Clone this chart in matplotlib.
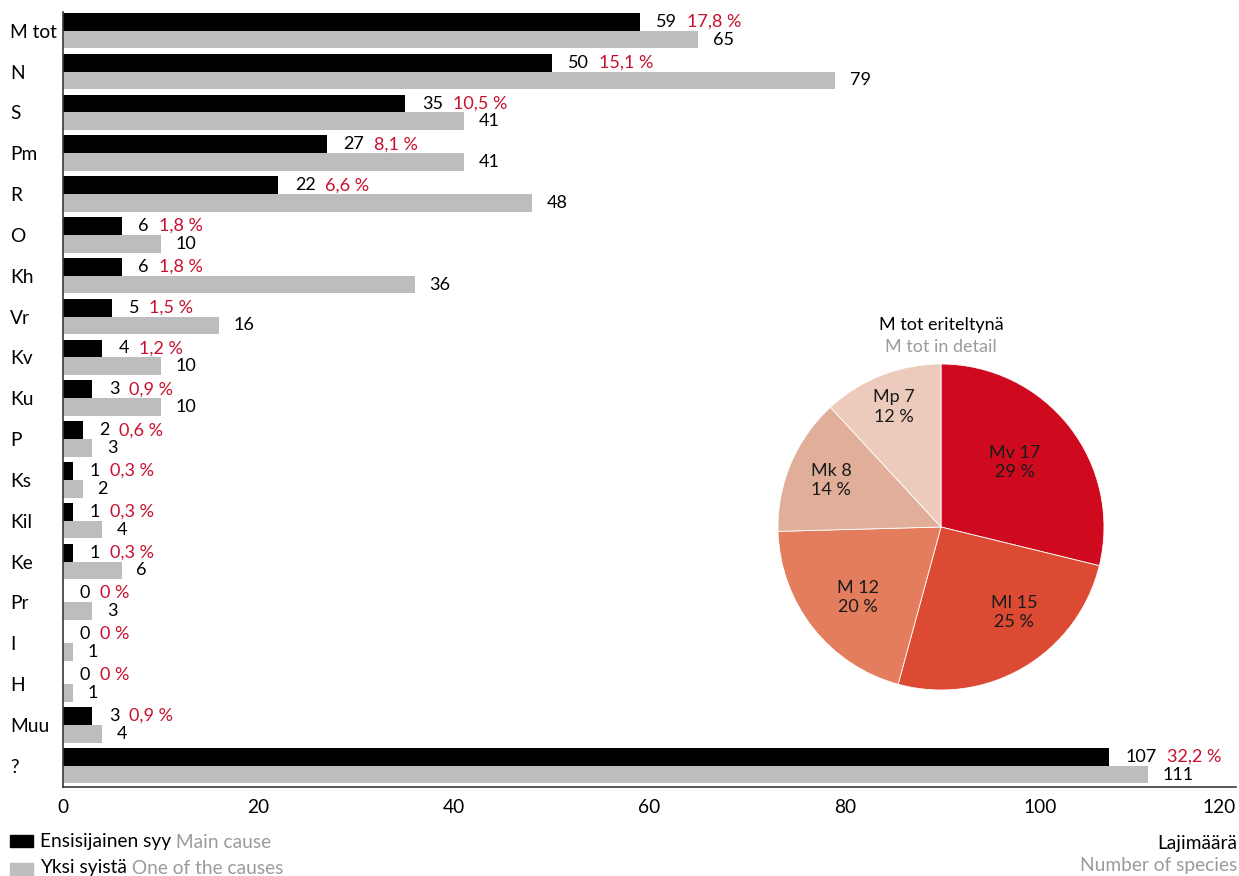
import matplotlib
matplotlib.use("Agg")
import matplotlib.pyplot as plt
from matplotlib.patches import Rectangle
import numpy as np

plt.rcParams["font.family"] = ["Lato", "DejaVu Sans"]

# --- data -------------------------------------------------------------
categories = ["M tot", "N", "S", "Pm", "R", "O", "Kh", "Vr", "Kv", "Ku",
              "P", "Ks", "Kil", "Ke", "Pr", "I", "H", "Muu", "?"]
main_cause = [59, 50, 35, 27, 22, 6, 6, 5, 4, 3, 2, 1, 1, 1, 0, 0, 0, 3, 107]
one_of_causes = [65, 79, 41, 41, 48, 10, 36, 16, 10, 10, 3, 2, 4, 6, 3, 1, 1, 4, 111]

detail_labels = ["Mv", "Ml", "M", "Mk", "Mp"]
detail_values = [17, 15, 12, 8, 7]

x_ticks = [0, 20, 40, 60, 80, 100, 120]

# --- style ------------------------------------------------------------
BLACK = "#000000"
GREY_BAR = "#bdbdbd"
GREY_TXT = "#9b9b9b"
RED_TXT = "#c8102e"
SPINE = "#3a3a3a"
detail_colors = ["#cf0a1f", "#dc4a33", "#e47c5e", "#e0ae99", "#eccbbd"]
FS = 13
FS_BIG = 13.8

W, H = 1239, 876
fig = plt.figure(figsize=(W / 100, H / 100), dpi=100)

# --- bar chart --------------------------------------------------------
left_px, right_px, top_px, bottom_px = 63, 1236, 12, 786.5
ax = fig.add_axes([left_px / W, 1 - bottom_px / H,
                   (right_px - left_px) / W, (bottom_px - top_px) / H])

h = 0.434
y = np.arange(len(categories))
ax.barh(y - h / 2, main_cause, height=h, color=BLACK, linewidth=0)
ax.barh(y + h / 2, one_of_causes, height=h, color=GREY_BAR, linewidth=0)

ax.set_xlim(0, 120)
ax.set_ylim(18.51, -0.458)

total_main = sum(main_cause)
for i, (m, o) in enumerate(zip(main_cause, one_of_causes)):
    t = ax.annotate(str(m), xy=(m, i - h / 2), xytext=(12, 0),
                    textcoords="offset points", ha="left", va="center",
                    fontsize=FS, color=BLACK)
    if m == 0:
        pct = "0 %"
    else:
        pct = f"{m / total_main * 100:.1f}".replace(".", ",") + " %"
    ax.annotate(pct, xy=(1, 0.5), xycoords=t, xytext=(7, 0),
                textcoords="offset points", ha="left", va="center",
                fontsize=FS, color=RED_TXT)
    ax.annotate(str(o), xy=(o, i + h / 2), xytext=(10.5, 0),
                textcoords="offset points", ha="left", va="center",
                fontsize=FS, color=BLACK)

ax.set_yticks(y)
ax.set_yticklabels(categories, fontsize=FS_BIG)
for lab in ax.get_yticklabels():
    lab.set_horizontalalignment("left")
ax.tick_params(axis="y", length=0, pad=38)

ax.set_xticks(x_ticks)
ax.set_xticklabels([str(v) for v in x_ticks], fontsize=FS_BIG)
ax.get_xticklabels()[-1].set_horizontalalignment("right")
ax.tick_params(axis="x", length=0, pad=9)

for s in ("top", "right"):
    ax.spines[s].set_visible(False)
for s in ("left", "bottom"):
    ax.spines[s].set_color(SPINE)
    ax.spines[s].set_linewidth(1.2)

# --- pie of M tot breakdown ------------------------------------------
cx, cy, r = 941, 527, 163
pax = fig.add_axes([(cx - r) / W, 1 - (cy + r) / H, 2 * r / W, 2 * r / H])
wedges, _ = pax.pie(detail_values, colors=detail_colors, startangle=90,
                    counterclock=False, radius=1,
                    wedgeprops=dict(edgecolor="white", linewidth=0.6))
pax.set_xlim(-1, 1)
pax.set_ylim(-1, 1)
pax.set_aspect("equal")
pax.axis("off")

label_r = [0.60, 0.69, 0.67, 0.73, 0.79]
label_nudge = [3, 10, 2, 0, 0]
total_detail = sum(detail_values)
for w, name, v, rr, dn in zip(wedges, detail_labels, detail_values, label_r, label_nudge):
    ang = np.deg2rad((w.theta1 + w.theta2) / 2 + dn)
    pax.text(rr * np.cos(ang), rr * np.sin(ang),
             f"{name} {v}\n{round(v / total_detail * 100)} %",
             ha="center", va="center", fontsize=FS, color="#1a1a1a",
             linespacing=1.25)

fig.text(cx / W, 1 - 325 / H, "M tot eriteltynä", ha="center", va="center",
         fontsize=FS, color=BLACK)
fig.text(cx / W, 1 - 347 / H, "M tot in detail", ha="center", va="center",
         fontsize=FS, color=GREY_TXT)

# --- legend -----------------------------------------------------------
fig.patches.append(Rectangle((10 / W, 1 - 847 / H), 23 / W, 12 / H,
                             transform=fig.transFigure, color=BLACK))
fig.patches.append(Rectangle((10 / W, 1 - 876 / H), 23 / W, 13 / H,
                             transform=fig.transFigure, color=GREY_BAR))
t1 = fig.text(40 / W, 1 - 842 / H, "Ensisijainen syy", ha="left", va="center",
              fontsize=FS_BIG, color=BLACK)
ax.annotate(" Main cause", xy=(1, 0.5), xycoords=t1, ha="left", va="center",
            fontsize=FS_BIG, color=GREY_TXT, annotation_clip=False)
t2 = fig.text(40 / W, 1 - 868 / H, "Yksi syistä", ha="left", va="center",
              fontsize=FS_BIG, color=BLACK)
ax.annotate(" One of the causes", xy=(1, 0.5), xycoords=t2, ha="left",
            va="center", fontsize=FS_BIG, color=GREY_TXT, annotation_clip=False)

fig.text(1237 / W, 1 - 843 / H, "Lajimäärä", ha="right", va="center",
         fontsize=FS_BIG, color=BLACK)
fig.text(1237 / W, 1 - 866 / H, "Number of species", ha="right", va="center",
         fontsize=FS_BIG, color=GREY_TXT)

fig.savefig("out.png", dpi=100)
